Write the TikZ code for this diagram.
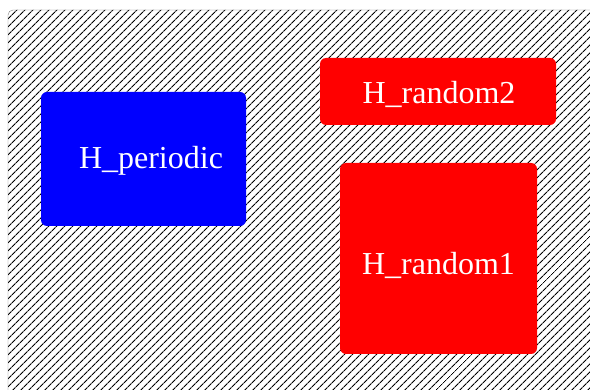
\documentclass[tikz,border=0pt]{standalone}
\usepackage{fontspec}
\setmainfont{Liberation Serif}
\usepackage{tikz}
\usetikzlibrary{patterns.meta}

\begin{document}
\begin{tikzpicture}[x=1pt,y=-1pt,
    blockbox/.style={draw=none,rounded corners=6pt,inner sep=0pt},
    blocktext/.style={text=white,font=\fontsize{32}{36}\selectfont}]

% Frame of the picture
\useasboundingbox (0,0) rectangle (590,390);
\clip (0,0) rectangle (590,390);

% Hatched background
\draw[gray,rounded corners=5pt,
      pattern={Lines[angle=45,distance=5.4pt,line width=1.1pt]}]
    (8,10) rectangle (610,410);

% Draw the periodic block
\node[blockbox,fill=blue,minimum width=205pt,minimum height=134pt] (periodic) at (143.5,159) {};
\node[blocktext] (periodiclabel) at (151,161) {H\_periodic};

% Draw the random blocks
\node[blockbox,fill=red,minimum width=236pt,minimum height=67pt] (random2) at (438,91.5) {};
\node[blocktext] (random2label) at (439,94) {H\_random2};

\node[blockbox,fill=red,minimum width=197pt,minimum height=191pt] (random1) at (438.5,258.5) {};
\node[blocktext] (random1label) at (438.5,265) {H\_random1};

\end{tikzpicture}
\end{document}
